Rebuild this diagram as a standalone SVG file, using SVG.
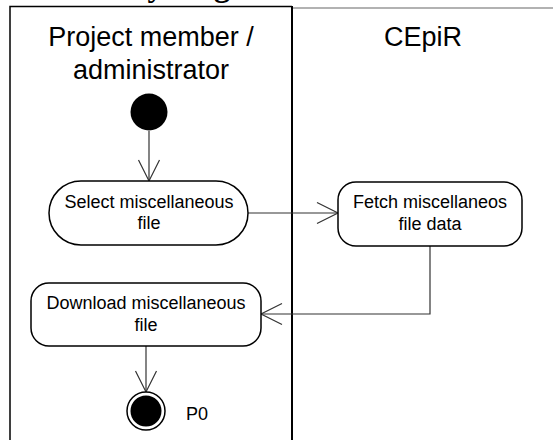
<svg xmlns="http://www.w3.org/2000/svg" width="553" height="440" viewBox="0 0 553 440">
<style>
.lane{font-family:"Liberation Sans",Arial,sans-serif;font-size:27px;fill:#000;text-anchor:middle}
.lbl{font-family:"Liberation Sans",Arial,sans-serif;font-size:18px;fill:#000;text-anchor:middle}
.box{fill:#fff;stroke:#000;stroke-width:1.5}
.conn{fill:none;stroke:#333;stroke-width:1.2}
</style>
<defs>
<marker id="open" markerUnits="userSpaceOnUse" markerWidth="26" markerHeight="26" viewBox="-23 -13 26 26" refX="0" refY="0" orient="auto">
<path d="M-21,-10.5 L0,0 L-21,10.5" fill="none" stroke="#333" stroke-width="1.2"/>
</marker>
</defs>
<rect width="553" height="440" fill="#fff"/>
<text x="55" y="-4" font-family="Liberation Serif,serif" font-weight="bold" font-size="32">Activity diagram</text>
<g id="lanes">
<line x1="292" y1="8" x2="553" y2="8" stroke="#666" stroke-width="1.2"/>
<path d="M10,440 V6.5 H292" fill="none" stroke="#000" stroke-width="1.5"/>
<line x1="292" y1="6" x2="292" y2="440" stroke="#000" stroke-width="2"/>
<text class="lane" x="151" y="46">Project member /</text>
<text class="lane" x="151" y="79">administrator</text>
<text class="lane" x="423" y="46">CEpiR</text>
</g>
<g id="connectors">
<path class="conn" d="M149,131 V181" marker-end="url(#open)"/>
<path class="conn" d="M248,213 H338" marker-end="url(#open)"/>
<path class="conn" d="M430,246 V314 H261" marker-end="url(#open)"/>
<path class="conn" d="M146,346 V392" marker-end="url(#open)"/>
</g>
<g id="start">
<circle cx="149" cy="112" r="18.5" fill="#000"/>
</g>
<g id="select">
<rect class="box" x="49" y="181" width="199" height="64" rx="32"/>
<text class="lbl" x="149" y="208">Select miscellaneous</text>
<text class="lbl" x="149" y="229">file</text>
</g>
<g id="fetch">
<rect class="box" x="338" y="182" width="184" height="64" rx="18"/>
<text class="lbl" x="430" y="208">Fetch miscellaneos</text>
<text class="lbl" x="430" y="230">file data</text>
</g>
<g id="download">
<rect class="box" x="31" y="283" width="230" height="63" rx="18"/>
<text class="lbl" x="146" y="309">Download miscellaneous</text>
<text class="lbl" x="146" y="331">file</text>
</g>
<g id="end">
<circle cx="146" cy="411" r="19" fill="#fff" stroke="#000" stroke-width="1.5"/>
<circle cx="146" cy="411" r="15.5" fill="#000"/>
<text class="lbl" x="186" y="420" text-anchor="start" style="text-anchor:start">P0</text>
</g>
</svg>
